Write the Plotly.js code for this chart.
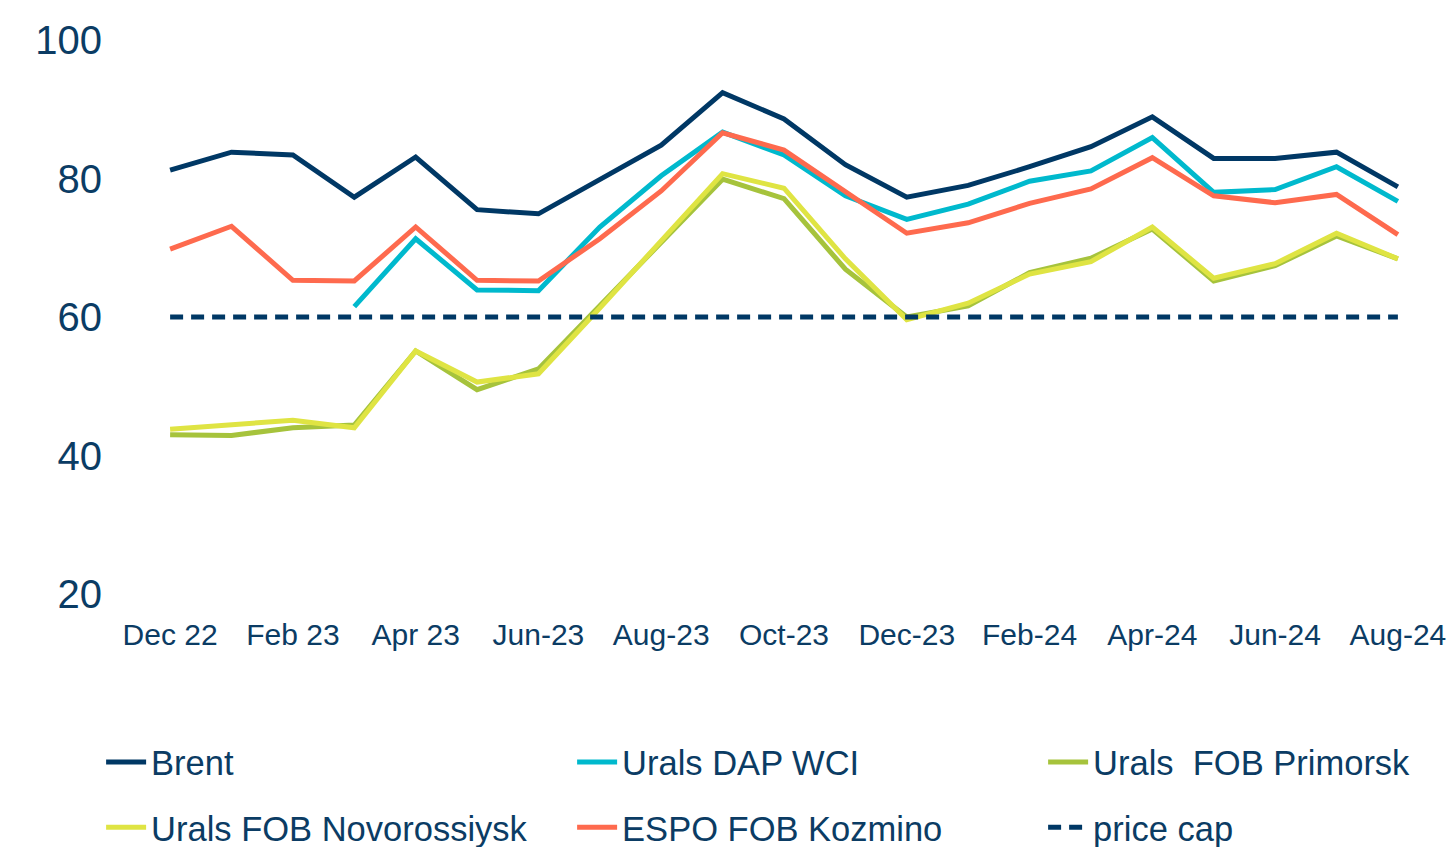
<!DOCTYPE html>
<html><head><meta charset="utf-8">
<script src="https://cdn.plot.ly/plotly-3.0.1.min.js"></script>
<style>html,body{margin:0;padding:0;background:#fff;}#chart{width:1449px;height:847px;}</style>
</head><body><div id="chart"></div>
<script>
const months = ["Dec 22","Jan 23","Feb 23","Mar 23","Apr 23","May 23","Jun-23","Jul-23","Aug-23","Sep-23","Oct-23","Nov-23","Dec-23","Jan-24","Feb-24","Mar-24","Apr-24","May-24","Jun-24","Jul-24","Aug-24"];
const tickLabels = ["Dec 22","Feb 23","Apr 23","Jun-23","Aug-23","Oct-23","Dec-23","Feb-24","Apr-24","Jun-24","Aug-24"];
const yTicks = [20,40,60,80,100];

const brent       = [81.2,83.8,83.4,77.3,83.1,75.5,74.9,79.9,84.8,92.4,88.6,82.0,77.3,79.0,81.7,84.6,88.9,82.9,82.9,83.8,78.8];
const uralsDap    = [null,null,null,61.5,71.3,63.9,63.8,73.0,80.4,86.7,83.4,77.5,74.1,76.3,79.6,81.1,85.9,78.0,78.4,81.7,76.7];
const uralsPrim   = [43.0,42.9,44.0,44.4,55.1,49.5,52.5,61.6,70.8,79.9,77.1,66.9,60.0,61.6,66.4,68.5,72.7,65.2,67.4,71.7,68.4];
const uralsNovo   = [43.8,44.4,45.1,44.0,55.1,50.6,51.8,61.3,71.0,80.7,78.6,68.4,59.6,62.0,66.2,68.0,73.0,65.6,67.7,72.1,68.4];
const espo        = [69.8,73.1,65.3,65.2,73.0,65.3,65.2,71.3,78.2,86.6,84.1,78.0,72.1,73.6,76.4,78.5,83.0,77.5,76.5,77.7,71.9];
const priceCap    = [60,60,60,60,60,60,60,60,60,60,60,60,60,60,60,60,60,60,60,60,60];

const textColor = "#0b3c64";
const FONT = "Liberation Sans, Arial, sans-serif";

const traces = [
  {name:"Brent", y:brent, color:"#003865", legend:"legend"},
  {name:"Urals DAP WCI", y:uralsDap, color:"#00b9cd", legend:"legend"},
  {name:"Urals  FOB Primorsk", y:uralsPrim, color:"#a6c33c", legend:"legend"},
  {name:"Urals FOB Novorossiysk", y:uralsNovo, color:"#dfe443", legend:"legend2"},
  {name:"ESPO FOB Kozmino", y:espo, color:"#fe6a4e", legend:"legend2"},
  {name:"price cap", y:priceCap, color:"#003865", legend:"legend2", dash:"13px,8px"}
].map(t => ({
  type:"scatter", mode:"lines", x:months, y:t.y, name:t.name, legend:t.legend,
  line:{color:t.color, width:5, dash:t.dash || "solid"},
  connectgaps:false, hoverinfo:"x+y+name"
}));

const legendCommon = {
  orientation:"h", xanchor:"left", yanchor:"middle", x:-0.015,
  xref:"paper", yref:"paper",
  font:{family:FONT, size:34.5, color:textColor},
  entrywidth:416, entrywidthmode:"pixels",
  bgcolor:"rgba(0,0,0,0)", borderwidth:0, itemwidth:40, traceorder:"normal"
};

const layout = {
  width:1449, height:847,
  margin:{l:121, r:2, t:40, b:253, autoexpand:false},
  paper_bgcolor:"#ffffff", plot_bgcolor:"#ffffff",
  font:{family:FONT, color:textColor},
  showlegend:true,
  xaxis:{
    type:"category", range:[-0.8, 20.8],
    tickmode:"array", tickvals:tickLabels, ticktext:tickLabels,
    showgrid:false, zeroline:false, showline:false, ticks:"",
    tickfont:{family:FONT, size:30, color:textColor},
    ticklabelstandoff:20, fixedrange:true
  },
  yaxis:{
    range:[20,100], tickmode:"array", tickvals:yTicks,
    showgrid:false, zeroline:false, showline:false, ticks:"",
    tickfont:{family:FONT, size:40, color:textColor},
    ticklabelstandoff:18, fixedrange:true
  },
  legend:Object.assign({}, legendCommon, {y:-0.3032}),
  legend2:Object.assign({}, legendCommon, {y:-0.421})
};

Plotly.newPlot("chart", traces, layout, {displayModeBar:false, staticPlot:true});
</script>
</body></html>
